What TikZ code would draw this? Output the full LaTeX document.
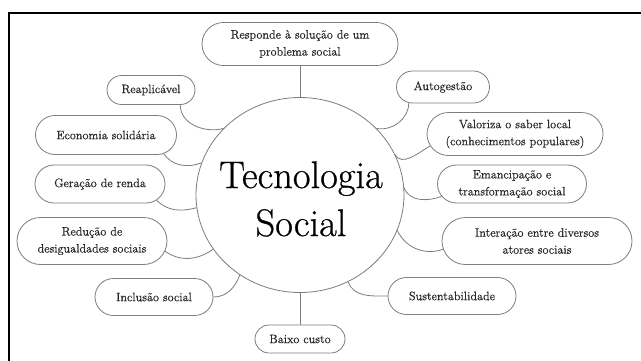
\documentclass[tikz,border=0pt]{standalone}
\usepackage{fontspec}
\newfontfamily\semib{Latin Modern Roman}[FakeBold=0.6]
\usetikzlibrary{shapes.misc,shapes.geometric}
\definecolor{lin}{RGB}{125,125,125}
\definecolor{txt}{RGB}{40,40,40}
\tikzset{
  bub/.style={rounded rectangle, draw=lin, line width=0.8pt, inner sep=0pt,
    align=center, text=txt, font=\semib\fontsize{12.2}{17}\selectfont},
  conn/.style={draw=lin, line width=0.8pt},
}
\begin{document}
\begin{tikzpicture}[x=1pt,y=1pt]
\useasboundingbox (0,0) rectangle (641,-360);
\fill[white] (0,0) rectangle (641,-360);
\draw[line width=2.5pt, line cap=rect] (9,-360) -- (9,-13) -- (641,-13);

\node[ellipse, draw=lin, line width=0.8pt, inner sep=0pt, minimum width=208, minimum height=195] (c) at (300,-195) {};
\node[align=center, inner sep=0pt, font=\semib\fontsize{38.5}{48}\selectfont] (title) at (301,-199) {Tecnologia\\Social};

\node[bub, minimum width=196, minimum height=43] (resp) at (300,-44) {Responde à solução de um\\problema social};
\node[bub, minimum width=88, minimum height=29] (reap) at (151,-90) {Reaplicável};
\node[bub, minimum width=141, minimum height=39] (eco) at (106,-135) {Economia solidária};
\node[bub, minimum width=130, minimum height=38] (ger) at (100,-184) {Geração de renda};
\node[bub, minimum width=150, minimum height=47] (red) at (92,-241) {Redução de\\desigualdades sociais};
\node[bub, minimum width=118, minimum height=37] (inc) at (154,-297) {Inclusão social};
\node[bub, minimum width=90, minimum height=28] (baixo) at (300,-339) {Baixo custo};
\node[bub, minimum width=128, minimum height=37] (sus) at (452,-296) {Sustentabilidade};
\node[bub, minimum width=190, minimum height=47] (int) at (537,-241) {Interação entre diversos\\atores sociais};
\node[bub, minimum width=149, minimum height=38] (ema) at (512,-184) {Emancipação e\\transformação social};
\node[bub, minimum width=176, minimum height=43] (val) at (515,-134) {Valoriza o saber local\\(conhecimentos populares)};
\node[bub, minimum width=93, minimum height=32] (aut) at (443,-87) {Autogestão};

\draw[conn] (resp.south) -- (c.north);
\draw[conn] (c.south) -- (baixo.north);
\draw[conn] (c.139) to[out=195,in=-90] (reap.-27);
\draw[conn] (c.162) to[out=200,in=-55] (eco.-18);
\draw[conn] (c.187) to[out=195,in=-45] (ger.-16);
\draw[conn] (c.212) to[out=215,in=-35] (red.-8);
\draw[conn] (inc.east) to[out=0,in=-110] (c.233);
\draw[conn] (sus.west) to[out=180,in=-70] (c.-61.6);
\draw[conn] (c.-20) to[out=-65,in=200] (int.185);
\draw[conn] (c.4) to[out=-70,in=200] (ema.190);
\draw[conn] (c.23) to[out=-60,in=210] (val.188);
\draw[conn] (c.41) to[out=-10,in=-90] (aut.205);
\end{tikzpicture}
\end{document}
